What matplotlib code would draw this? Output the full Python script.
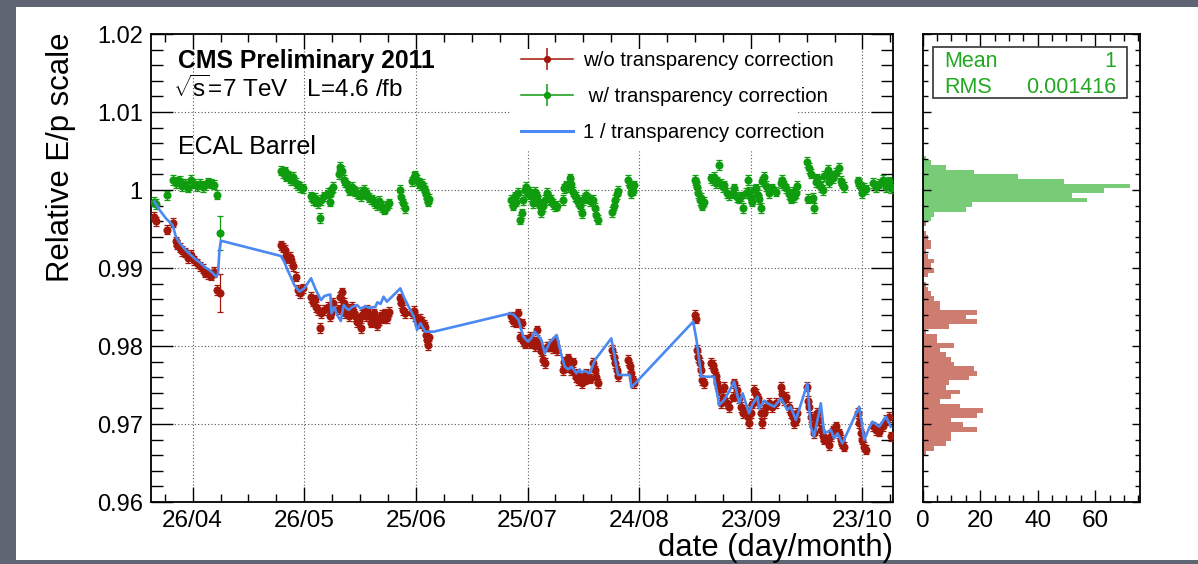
import numpy as np
import matplotlib
matplotlib.use("Agg")
import matplotlib.pyplot as plt
import matplotlib.dates as mdates
from matplotlib.patches import Rectangle
from matplotlib.lines import Line2D
from matplotlib.legend_handler import HandlerTuple
from matplotlib.ticker import FixedLocator, MultipleLocator, FuncFormatter, NullFormatter

plt.rcParams['font.family'] = ['Liberation Sans', 'DejaVu Sans']
plt.rcParams['mathtext.fontset'] = 'custom'
plt.rcParams['mathtext.rm'] = 'Liberation Sans'
plt.rcParams['mathtext.it'] = 'Liberation Sans'
plt.rcParams['mathtext.sf'] = 'Liberation Sans'

# ---------------- data ----------------
start_date = '2011-04-26'
tick_dates = ['2011-04-26', '2011-05-26', '2011-06-25', '2011-07-25',
              '2011-08-24', '2011-09-23', '2011-10-23']
x_range_days = (-11.2, 188.2)
y_range = (0.96, 1.02)

# days since 26/04/2011 of each run group
run_day = [
    -10.3, -9.9, -7.0, -5.2, -4.6, -4.2, -3.4, -2.8, -2.0, -1.3, -0.5, 0.3, 1.1, 1.9, 2.7, 3.4, 4.2, 5.0, 5.8, 6.5, 7.4,
    23.8, 24.3, 24.7, 25.2, 25.6, 26.1, 26.5, 27.0, 27.8, 28.3, 28.8, 29.6, 31.8, 32.3, 32.8, 33.2, 33.7, 34.2, 34.6, 35.4, 36.3, 36.9, 37.3, 37.8,
    39.3, 39.7, 40.1, 40.6, 41.0, 41.5, 41.9, 42.4, 42.8, 43.3, 43.7, 44.2, 44.6, 45.1, 45.6, 46.0, 46.5, 46.9, 47.3, 47.8, 48.2, 48.6, 49.1, 49.5, 50.0, 50.5, 50.9, 51.3, 51.8, 52.2, 52.7,
    55.6, 56.0, 56.5, 57.0,
    59.0, 59.4, 59.8, 60.3, 60.7, 61.2, 61.6, 62.1, 62.5, 62.8, 63.0, 63.2, 63.4,
    85.6, 86.0, 86.5, 87.0, 87.5, 88.0, 88.4, 88.8, 89.3, 89.7, 90.2, 90.6, 91.0, 91.5, 92.0, 92.4, 92.8, 93.3, 93.7, 94.2, 94.6, 95.1, 95.5, 96.0, 96.4, 96.9, 97.3, 97.8,
    99.4, 99.9, 100.4, 100.9, 101.3, 101.8, 102.2, 102.7, 103.1, 103.6, 104.0, 104.5, 104.9, 105.4, 105.8, 106.3, 106.7,
    107.6, 108.1, 108.5, 109.0,
    112.8, 113.2, 113.5, 113.9, 114.3,
    117.1, 117.5, 117.9, 118.2, 118.5,
    134.9, 135.2, 135.4, 135.8, 136.3, 136.7, 137.0, 137.4,
    139.2, 139.7, 140.1, 140.6, 141.0, 141.5, 141.9, 142.4, 142.8, 143.7, 144.2, 145.1, 145.5, 146.4, 146.9, 147.3, 147.8, 148.6, 149.1, 149.5, 150.0, 150.4, 150.9, 151.3, 151.8, 152.2, 152.7, 153.1, 153.6, 154.0, 154.9, 155.8, 156.7,
    158.1, 158.5, 159.0, 159.4, 160.3, 160.7, 161.2, 161.6, 162.1, 162.5,
    165.2, 165.4, 165.7, 166.1, 166.6, 167.0, 167.5, 167.9, 168.4, 168.8, 169.3, 169.7,
    170.6, 171.1, 171.5, 172.0, 172.8, 173.7, 174.2, 174.6, 175.1,
    178.7, 179.1, 179.6, 180.0, 180.5, 180.9,
    182.7, 183.6, 184.5, 185.4, 186.3, 187.2, 187.6,
]

# relative E/p without transparency correction (red)
ep_uncorr = [
    .99660, .99600, .99490, .99580, .99340, .99300, .99260, .99220, .99200, .99130, .99170, .99100, .99060, .99020, .98990, .98940, .98920, .98900, .98950, .98720, .98680,
    .99290, .99260, .99230, .99150, .99120, .99140, .99100, .99020, .98890, .98720, .98680, .98740, .98630, .98570, .98600, .98500, .98460, .98230, .98420, .98460, .98500, .98380, .98420, .98550,
    .98470, .98630, .98690, .98550, .98420, .98480, .98380, .98450, .98500, .98420, .98380, .98310, .98330, .98230, .98400, .98420, .98380, .98460, .98380, .98300, .98360, .98420, .98350, .98270, .98330, .98380, .98400, .98350, .98420, .98360, .98440,
    .98610, .98550, .98460, .98420,
    .98420, .98450, .98380, .98330, .98290, .98350, .98310, .98270, .98250, .98140, .98080, .98010, .98120,
    .98380, .98320, .98360, .98300, .98420, .98120, .98290, .98060, .98030, .98080, .98060, .98120, .98030, .98060, .98000, .98200, .98060, .97990, .97930, .97820, .97780, .97990, .97990, .97990, .98030, .97970, .98060, .97950,
    .97690, .97800, .97730, .97840, .97750, .97690, .97790, .97650, .97600, .97560, .97620, .97520, .97600, .97570, .97650, .97610, .97580,
    .97780, .97690, .97600, .97520,
    .97950, .97860, .97780, .97690, .97610,
    .97820, .97740, .97650, .97560, .97520,
    .98400, .98350, .97950, .97860, .97780, .97690, .97560, .97520,
    .97780, .97760, .97690, .97610, .97520, .97430, .97270, .97350, .97480, .97270, .97220, .97350, .97520, .97440, .97330, .97220, .97140, .97180, .97090, .97010, .97140, .97260, .97440, .97390, .97330, .97270, .97140, .97010, .97140, .97220, .97270, .97220, .97270,
    .97480, .97390, .97310, .97350, .97220, .97140, .97090, .97010, .97050, .97140,
    .97480, .97300, .97220, .97090, .96970, .96880, .97050, .97140, .97050, .96920, .96840, .96800,
    .96800, .96730, .96840, .96920, .96970, .96880, .96800, .96750, .96710,
    .97140, .97010, .96880, .96800, .96710, .96670,
    .96970, .96920, .96900, .96970, .97050, .97090, .96840,
]

# relative E/p with transparency correction (green)
ep_corr = [
    .99850, .99820, .99930, 1.00130, 1.00090, 1.00110, 1.00120, 1.00050, 1.00080, 1.00030, 1.00130, 1.00080, 1.00050, 1.00080, 1.00040, 1.00060, 1.00100, 1.00080, 1.00070, .99940, .99450,
    1.00250, 1.00220, 1.00240, 1.00170, 1.00190, 1.00150, 1.00130, 1.00170, 1.00090, 1.00060, 1.00040, 1.00020, .99920, .99870, .99900, .99850, .99830, .99640, .99870, .99920, .99960, .99850, .99980, 1.00040,
    1.00200, 1.00300, 1.00250, 1.00130, 1.00100, 1.00060, 1.00000, 1.00010, 1.00040, .99990, .99980, .99960, .99940, .99920, .99980, 1.00000, .99960, .99940, .99900, .99880, .99880, .99850, .99830, .99810, .99860, .99800, .99780, .99750, .99760, .99800, .99830,
    1.00000, .99910, .99830, .99770,
    1.00110, 1.00170, 1.00190, 1.00130, 1.00090, 1.00060, 1.00080, 1.00030, .99990, .99950, .99900, .99850, .99890,
    .99870, .99800, .99920, .99850, .99960, .99620, .99700, .99870, 1.00000, 1.00040, .99950, .99980, .99920, .99830, .99980, .99920, .99860, .99790, .99720, .99790, .99870, .99960, .99920, .99880, .99870, .99820, .99790, .99800,
    .99870, 1.00020, 1.00060, 1.00040, 1.00150, 1.00080, .99980, .99920, .99910, .99850, .99790, .99700, .99870, .99900, .99940, .99890, .99860,
    .99870, .99770, .99680, .99620,
    .99720, .99800, .99870, .99950, .99990,
    1.00130, 1.00050, .99960, .99990, 1.00060,
    1.00130, 1.00100, 1.00040, .99960, .99870, .99900, .99800, .99850,
    1.00150, 1.00130, 1.00170, 1.00090, 1.00110, 1.00320, 1.00080, 1.00040, 1.00060, .99960, .99930, .99960, 1.00020, .99910, .99890, .99920, .99770, .99960, 1.00130, .99980, .99900, .99850, 1.00000, 1.00020, .99940, .99880, .99770, 1.00110, 1.00170, 1.00050, .99960, 1.00020, .99980,
    1.00090, 1.00130, 1.00060, 1.00020, .99950, .99890, .99980, .99910, .99960, 1.00050,
    1.00360, .99890, 1.00280, 1.00210, .99900, .99770, 1.00100, 1.00150, 1.00080, 1.00040, 1.00000, 1.00180,
    1.00260, 1.00100, 1.00190, 1.00150, 1.00220, 1.00280, 1.00120, 1.00080, 1.00040,
    1.00110, 1.00080, 1.00040, .99960, 1.00030, 1.00010,
    1.00090, 1.00040, 1.00080, 1.00130, 1.00040, 1.00110, 1.00020,
]

typical_err = 0.0006
wide_err_day = 7.4
wide_err_uncorr = 0.0024
wide_err_corr = 0.0022

# 1 / transparency correction (blue line)
corr_day = [
    -10.3, -9.0, -7.2, -5.4, -4.5, -3.6, -2.7, -1.5, -0.5, 0.8, 2.2, 3.3, 4.5, 5.5, 6.3, 6.8, 7.2, 7.6,
    23.7, 24.6, 25.5, 26.4, 27.3, 28.7, 30.0, 31.8, 33.1, 34.5, 35.4, 36.3, 37.0, 37.3, 38.1, 38.8, 39.8,
    40.6, 41.4, 41.9, 42.8, 44.2, 45.1, 46.5, 47.3, 49.1, 49.6, 50.5, 51.3, 52.2, 55.8, 56.7, 58.5, 59.4,
    60.3, 61.2, 62.5, 64.8,
    85.4, 86.3, 87.6, 88.8, 90.1, 91.0, 91.9, 93.7, 94.6, 96.0, 97.8, 99.0, 100.0, 100.9, 101.8, 102.7,
    103.1, 104.0, 104.5, 105.4, 106.7, 108.1, 112.5, 114.3, 117.5, 117.9,
    134.5, 135.4, 136.7, 140.1, 141.5, 142.8, 144.2, 145.5, 146.9, 147.8, 149.5, 150.4, 151.8, 152.2,
    153.6, 154.5, 156.3, 158.1, 159.8, 160.7, 162.1, 165.2, 166.1, 167.0, 167.9, 168.8, 169.7, 170.6,
    171.5, 172.4, 173.3, 174.6, 179.1, 180.5, 181.8, 182.7, 184.5, 186.3, 187.6,
]
corr_inv = [
    .99850, .99750, .99637, .99551, .99400, .99330, .99274, .99210, .99167, .99110, .99060, .99010, .98974, .98930, .98889, .98920, .99231, .99350,
    .99154, .99080, .98974, .98880, .98782, .98697, .98740, .98868, .98718, .98590, .98640, .98654, .98660, .98419, .98500, .98400, .98320,
    .98526, .98480, .98462, .98500, .98526, .98480, .98510, .98490, .98500, .98560, .98540, .98632, .98568, .98739, .98632, .98462, .98380,
    .98205, .98291, .98184, .98184,
    .98419, .98400, .98333, .98120, .98056, .98100, .98184, .98077, .97906, .98050, .98141, .97900, .97735, .97700, .97735, .97680,
    .97650, .97700, .97660, .97680, .97650, .97820, .98098, .97628, .97628, .97470,
    .98312, .98077, .97607, .97607, .97244, .97308, .97420, .97543, .97265, .97393, .97137, .97250, .97350, .97200,
    .97300, .97265, .97222, .97329, .97180, .97220, .97051, .97521, .96966, .96838, .97051, .97265, .96880, .96900,
    .96923, .96816, .96880, .96752, .97222, .96795, .96950, .97030, .96966, .97094, .96966,
]

# projected histograms (bins of 0.0006 starting at 0.96)
hist_bin_low = 0.96
hist_bin_width = 0.0006
hist_uncorr_first_bin = 10
hist_uncorr_counts = [1, 4, 8, 10, 10, 19, 14, 10, 19, 21, 13, 6, 10, 13, 8, 9, 16, 19, 18, 11,
                      10, 8, 6, 11, 5, 5, 1, 9, 19, 15, 19, 6, 6, 4, 3, 2, 1, 0, 2, 4,
                      3, 4, 2, 1, 3, 3, 2, 1, 0, 1, 1]
hist_corr_first_bin = 60
hist_corr_counts = [3, 4, 15, 17, 57, 52, 63, 72, 49, 33, 18, 8, 3, 1]
hist_x_max = 75.6
stats_mean = '1'
stats_rms = '0.001416'

labels = ['w/o transparency correction', ' w/ transparency correction', '1 / transparency correction']

# ---------------- style ----------------
RED = '#a3180a'
GREEN = '#0f9d0f'
BLUE = '#4a88f2'
HIST_GREEN = '#78cc78'
HIST_RED = '#cf7c70'
STAT_GREEN = '#22a822'
GRID = '#555555'
MS = 4.8

W, H = 1198, 564
fig = plt.figure(figsize=(W / 100, H / 100), dpi=100)
fig.patch.set_facecolor('#5f6572')
fig.add_artist(Rectangle((16 / W, 1 - 560 / H), 1 - 16 / W, (560 - 7) / H,
                         transform=fig.transFigure, fc='white', ec='none', zorder=-5))

def fx(px):
    return px / W

def fy(py):
    return 1 - py / H

ax_l, ax_r, ax_t, ax_b = 151, 893, 34, 502
ax = fig.add_axes([fx(ax_l), fy(ax_b), fx(ax_r) - fx(ax_l), fy(ax_t) - fy(ax_b)])
hx_l, hx_r = 922.7, 1140
axh = fig.add_axes([fx(hx_l), fy(ax_b), fx(hx_r) - fx(hx_l), fy(ax_t) - fy(ax_b)])

base = mdates.date2num(np.datetime64(start_date))
x = base + np.array(run_day)
unc = np.array(ep_uncorr)
cor = np.array(ep_corr)
err_unc = np.where(np.isclose(run_day, wide_err_day), wide_err_uncorr, typical_err)
err_cor = np.where(np.isclose(run_day, wide_err_day), wide_err_corr, typical_err)

ax.set_axisbelow(True)
ax.errorbar(x, unc, yerr=err_unc, fmt='o', ms=MS, color=RED, ecolor=RED,
            elinewidth=0.9, capsize=2.5, capthick=0.9, zorder=3)
ax.errorbar(x, cor, yerr=err_cor, fmt='o', ms=MS, color=GREEN, ecolor=GREEN,
            elinewidth=0.9, capsize=2.5, capthick=0.9, zorder=3)
ax.plot(base + np.array(corr_day), corr_inv, color=BLUE, lw=1.9, zorder=4)

ax.set_xlim(base + x_range_days[0], base + x_range_days[1])
ax.set_ylim(*y_range)
major_x = [mdates.date2num(np.datetime64(d)) for d in tick_dates]
ax.xaxis.set_major_locator(FixedLocator(major_x))
ax.xaxis.set_major_formatter(mdates.DateFormatter('%d/%m'))
ax.xaxis.set_minor_locator(MultipleLocator(7.5, offset=base % 7.5))
ax.yaxis.set_major_locator(MultipleLocator(0.01))
ax.yaxis.set_minor_locator(MultipleLocator(0.002))
ax.yaxis.set_major_formatter(FuncFormatter(lambda v, p: '%g' % round(v, 4)))

ax.grid(True, which='major', color=GRID, lw=0.8, ls=(0, (1, 2)))
ax.tick_params(axis='x', which='major', direction='in', length=10.8, width=1.0,
               top=True, bottom=True, labelsize=17.5, pad=6)
ax.tick_params(axis='x', which='minor', direction='in', length=5.8, width=1.0,
               top=True, bottom=True)
ax.tick_params(axis='y', which='major', direction='in', length=15.8, width=1.0,
               left=True, right=True, labelsize=17, pad=6)
ax.tick_params(axis='y', which='minor', direction='in', length=8.3, width=1.0,
               left=True, right=True)
for s in ax.spines.values():
    s.set_linewidth(1.3)

# legend background
ax.add_patch(Rectangle(((510 - ax_l) / (ax_r - ax_l), (ax_b - 150) / (ax_b - ax_t)),
                       (797 - 510) / (ax_r - ax_l), (150 - 49) / (ax_b - ax_t),
                       transform=ax.transAxes, fc='white', ec='none', zorder=1))

h_unc = (Line2D([0], [0], color=RED, lw=1.1),
         Line2D([0], [0], color=RED, marker='|', ms=16, mew=1.1, ls='none'),
         Line2D([0], [0], color=RED, marker='o', ms=4.2, ls='none'))
h_cor = (Line2D([0], [0], color=GREEN, lw=1.1),
         Line2D([0], [0], color=GREEN, marker='|', ms=16, mew=1.1, ls='none'),
         Line2D([0], [0], color=GREEN, marker='o', ms=4.2, ls='none'))
h_blue = Line2D([0], [0], color=BLUE, lw=2.2)
leg = ax.legend([h_unc, h_cor, h_blue], labels,
                handler_map={tuple: HandlerTuple(ndivide=1)},
                loc='upper left', bbox_to_anchor=((520.7 - ax_l) / (ax_r - ax_l), (ax_b - 51) / (ax_b - ax_t)),
                frameon=False, fontsize=14.7, handlelength=2.55, handletextpad=0.5,
                labelspacing=0.84, borderpad=0, borderaxespad=0)
leg.set_zorder(5)

# annotations
ax.text((178 - ax_l) / (ax_r - ax_l), (ax_b - 68.3) / (ax_b - ax_t), 'CMS Preliminary 2011',
        transform=ax.transAxes, fontsize=17.8, fontweight='bold', va='baseline', ha='left', zorder=6)
ax.text((173 - ax_l) / (ax_r - ax_l), (ax_b - 97.3) / (ax_b - ax_t), r'$\sqrt{s}$=7 TeV   L=4.6 /fb',
        transform=ax.transAxes, fontsize=17.5, va='baseline', ha='left', zorder=6)
ax.text((178 - ax_l) / (ax_r - ax_l), (ax_b - 154) / (ax_b - ax_t), 'ECAL Barrel',
        transform=ax.transAxes, fontsize=18, va='baseline', ha='left', zorder=6)

fig.text(fx(61), fy(33), 'Relative E/p scale', rotation=90, ha='center', va='top', fontsize=22.4)
fig.text(fx(893), fy(556), 'date (day/month)', ha='right', va='baseline', fontsize=22.4)

# ---------------- histogram panel ----------------
edges_unc = hist_bin_low + hist_bin_width * np.arange(hist_uncorr_first_bin,
                                                      hist_uncorr_first_bin + len(hist_uncorr_counts) + 1)
edges_cor = hist_bin_low + hist_bin_width * np.arange(hist_corr_first_bin,
                                                      hist_corr_first_bin + len(hist_corr_counts) + 1)
axh.stairs(hist_uncorr_counts, edges_unc, orientation='horizontal', fill=True, color=HIST_RED, lw=0)
axh.stairs(hist_corr_counts, edges_cor, orientation='horizontal', fill=True, color=HIST_GREEN, lw=0)
axh.set_ylim(*y_range)
axh.set_xlim(0, hist_x_max)
axh.xaxis.set_major_locator(MultipleLocator(20))
axh.xaxis.set_minor_locator(MultipleLocator(5))
axh.yaxis.set_major_locator(MultipleLocator(0.01))
axh.yaxis.set_minor_locator(MultipleLocator(0.002))
axh.yaxis.set_major_formatter(NullFormatter())
axh.tick_params(axis='x', which='major', direction='in', length=8.6, width=1.0,
                top=True, bottom=True, labelsize=17.5, pad=6)
axh.tick_params(axis='x', which='minor', direction='in', length=4.7, width=1.0, top=True, bottom=True)
axh.tick_params(axis='y', which='major', direction='in', length=5.8, width=1.0, left=True, right=True)
axh.tick_params(axis='y', which='minor', direction='in', length=3.6, width=1.0, left=True, right=True)
for s in axh.spines.values():
    s.set_linewidth(1.3)

hw = hx_r - hx_l
hh = ax_b - ax_t
axh.add_patch(Rectangle(((932.7 - hx_l) / hw, (ax_b - 97.7) / hh), (1127.3 - 932.7) / hw, (97.7 - 47.3) / hh,
                        transform=axh.transAxes, fc='white', ec='#333333', lw=1.2, zorder=5))
axh.text((944 - hx_l) / hw, (ax_b - 67.3) / hh, 'Mean', transform=axh.transAxes, color=STAT_GREEN,
         fontsize=15.5, ha='left', va='baseline', zorder=6)
axh.text((1116.7 - hx_l) / hw, (ax_b - 67.3) / hh, stats_mean, transform=axh.transAxes, color=STAT_GREEN,
         fontsize=15.5, ha='right', va='baseline', zorder=6)
axh.text((944 - hx_l) / hw, (ax_b - 92.7) / hh, 'RMS', transform=axh.transAxes, color=STAT_GREEN,
         fontsize=15.5, ha='left', va='baseline', zorder=6)
axh.text((1116.7 - hx_l) / hw, (ax_b - 92.7) / hh, stats_rms, transform=axh.transAxes, color=STAT_GREEN,
         fontsize=15.5, ha='right', va='baseline', zorder=6)

fig.savefig('out.png', dpi=100, facecolor=fig.get_facecolor())
